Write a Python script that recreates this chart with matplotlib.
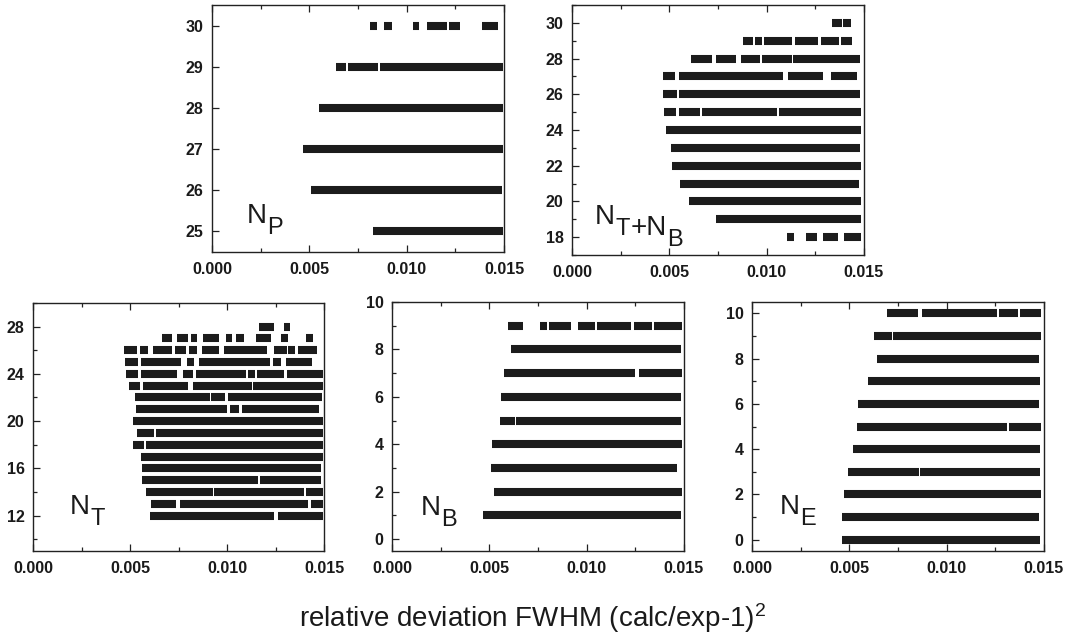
import matplotlib
matplotlib.use("Agg")
import matplotlib.pyplot as plt
from matplotlib.ticker import MultipleLocator, FormatStrFormatter

plt.rcParams["font.family"] = ["Liberation Sans", "DejaVu Sans"]
plt.rcParams["mathtext.default"] = "regular"

# ---- accepted parameter ranges: for each integer value, the x-intervals
# (relative deviation) covered by accepted solutions ----
np_levels = [30, 29, 28, 27, 26, 25]
np_segments = [
    [(0.00814, 0.00849), (0.00885, 0.00926), (0.01034, 0.01065),
     (0.01106, 0.01205), (0.01219, 0.01274), (0.01387, 0.01471)],
    [(0.00636, 0.00686), (0.00699, 0.00854), (0.00862, 0.01493)],
    [(0.00549, 0.01493)],
    [(0.00468, 0.01493)],
    [(0.00507, 0.01488)],
    [(0.00826, 0.01493)],
]

ntb_levels = [30, 29, 28, 27, 26, 25, 24, 23, 22, 21, 20, 19, 18]
ntb_segments = [
    [(0.01337, 0.01385), (0.01394, 0.01431)],
    [(0.00879, 0.00931), (0.00939, 0.00974), (0.00986, 0.01131),
     (0.01147, 0.01265), (0.01279, 0.01371), (0.01382, 0.01440)],
    [(0.00609, 0.00717), (0.00739, 0.00842), (0.00867, 0.00965),
     (0.00974, 0.01128), (0.01137, 0.01479)],
    [(0.00468, 0.00531), (0.00549, 0.01085), (0.01109, 0.01291),
     (0.01329, 0.01466)],
    [(0.00468, 0.00537), (0.00550, 0.01479)],
    [(0.00471, 0.00533), (0.00550, 0.00660), (0.00670, 0.01051),
     (0.01061, 0.01483)],
    [(0.00485, 0.01483)],
    [(0.00507, 0.01479)],
    [(0.00513, 0.01483)],
    [(0.00557, 0.01476)],
    [(0.00602, 0.01483)],
    [(0.00741, 0.01483)],
    [(0.01106, 0.01140), (0.01200, 0.01257), (0.01287, 0.01368),
     (0.01397, 0.01483)],
]

nt_levels = [28, 27, 26, 25, 24, 23, 22, 21, 20, 19, 18, 17, 16, 15, 14, 13, 12]
nt_segments = [
    [(0.01165, 0.01243), (0.01291, 0.01325)],
    [(0.00664, 0.00716), (0.00741, 0.00798), (0.00814, 0.00844),
     (0.00875, 0.00959), (0.00992, 0.01028), (0.01047, 0.01088),
     (0.01150, 0.01225), (0.01279, 0.01316), (0.01407, 0.01445)],
    [(0.00470, 0.00535), (0.00553, 0.00590), (0.00618, 0.00716),
     (0.00733, 0.00789), (0.00805, 0.00844), (0.00870, 0.00956),
     (0.00985, 0.01205), (0.01243, 0.01308), (0.01316, 0.01351),
     (0.01364, 0.01466)],
    [(0.00472, 0.00539), (0.00556, 0.00764), (0.00793, 0.00832),
     (0.00856, 0.01219), (0.01236, 0.01279), (0.01304, 0.01437)],
    [(0.00479, 0.00541), (0.00556, 0.00741), (0.00772, 0.00824),
     (0.00841, 0.01097), (0.01110, 0.01145), (0.01153, 0.01294),
     (0.01311, 0.01493)],
    [(0.00493, 0.00549), (0.00566, 0.00798), (0.00824, 0.01128),
     (0.01136, 0.01493)],
    [(0.00523, 0.00910), (0.00916, 0.00990), (0.01007, 0.01488)],
    [(0.00530, 0.00999), (0.01013, 0.01059), (0.01076, 0.01476)],
    [(0.00513, 0.01493)],
    [(0.00535, 0.00621), (0.00633, 0.01493)],
    [(0.00515, 0.00573), (0.00584, 0.01493)],
    [(0.00558, 0.01493)],
    [(0.00560, 0.01484)],
    [(0.00561, 0.01162), (0.01170, 0.01484)],
    [(0.00582, 0.00925), (0.00935, 0.01397), (0.01405, 0.01493)],
    [(0.00608, 0.00736), (0.00759, 0.01419), (0.01431, 0.01493)],
    [(0.00601, 0.01243), (0.01265, 0.01493)],
]

nb_levels = [9, 8, 7, 6, 5, 4, 3, 2, 1]
nb_segments = [
    [(0.00597, 0.00674), (0.00760, 0.00794), (0.00807, 0.00922),
     (0.00957, 0.01042), (0.01051, 0.01226), (0.01243, 0.01334),
     (0.01346, 0.01488)],
    [(0.00614, 0.01483)],
    [(0.00576, 0.01248), (0.01270, 0.01488)],
    [(0.00559, 0.01483)],
    [(0.00554, 0.00631), (0.00639, 0.01483)],
    [(0.00513, 0.01488)],
    [(0.00509, 0.01466)],
    [(0.00523, 0.01488)],
    [(0.00468, 0.01483)],
]

ne_levels = [10, 9, 8, 7, 6, 5, 4, 3, 2, 1, 0]
ne_segments = [
    [(0.00692, 0.00854), (0.00872, 0.01260), (0.01271, 0.01368),
     (0.01377, 0.01483)],
    [(0.00628, 0.00721), (0.00726, 0.01483)],
    [(0.00640, 0.01476)],
    [(0.00598, 0.01480)],
    [(0.00546, 0.01476)],
    [(0.00541, 0.01308), (0.01318, 0.01483)],
    [(0.00521, 0.01480)],
    [(0.00491, 0.00858), (0.00863, 0.01480)],
    [(0.00473, 0.01483)],
    [(0.00464, 0.01476)],
    [(0.00462, 0.01480)],
]

# panel titles as (text, is_subscript) pieces
np_title = [("N", False), ("P", True)]
ntb_title = [("N", False), ("T", True), ("+N", False), ("B", True)]
nt_title = [("N", False), ("T", True)]
nb_title = [("N", False), ("B", True)]
ne_title = [("N", False), ("E", True)]

BAR_COLOR = "#1c1c1c"
TEXT_COLOR = "#1a1a1a"

fig = plt.figure(figsize=(10.66, 6.34), dpi=100)


def draw_title(ax, pieces, pos):
    prev = ax.text(pos[0], pos[1], pieces[0][0], transform=ax.transAxes,
                   fontsize=20, color=TEXT_COLOR, ha="left", va="baseline")
    prev_sub = pieces[0][1]
    for txt, is_sub in pieces[1:]:
        dy = 0
        if is_sub and not prev_sub:
            dy = -3.5
        elif prev_sub and not is_sub:
            dy = 3.5
        prev = ax.annotate(txt, xy=(1, 0), xycoords=prev,
                           xytext=(0.3, dy), textcoords="offset points",
                           fontsize=17 if is_sub else 20, color=TEXT_COLOR,
                           ha="left", va="baseline")
        prev_sub = is_sub


def panel(rect, levels, segments, ylim, ymajor, yminor, title, lab_pos):
    ax = fig.add_axes(rect)
    for lvl, segs in zip(levels, segments):
        ax.hlines([lvl] * len(segs), [s[0] for s in segs], [s[1] for s in segs],
                  colors=BAR_COLOR, linewidth=5.8, capstyle="butt")
    ax.set_xlim(0.0, 0.015)
    ax.set_ylim(*ylim)
    ax.xaxis.set_major_locator(MultipleLocator(0.005))
    ax.xaxis.set_minor_locator(MultipleLocator(0.0025))
    ax.xaxis.set_major_formatter(FormatStrFormatter("%.3f"))
    ax.yaxis.set_major_locator(MultipleLocator(ymajor))
    ax.yaxis.set_minor_locator(MultipleLocator(yminor))
    ax.tick_params(which="both", direction="in", top=True, right=False,
                   width=0.9, color="#222222")
    ax.tick_params(which="major", length=5)
    ax.tick_params(which="minor", length=3)
    ax.tick_params(axis="x", which="major", pad=7)
    ax.tick_params(axis="y", which="major", pad=6)
    for t in ax.get_xticklabels() + ax.get_yticklabels():
        t.set_fontsize(11.5)
        t.set_fontweight("bold")
        t.set_color(TEXT_COLOR)
    for sp in ax.spines.values():
        sp.set_linewidth(1.0)
        sp.set_color("#222222")
    draw_title(ax, title, lab_pos)
    return ax


panel([0.1989, 0.6025, 0.2739, 0.3896], np_levels, np_segments,
      (24.5, 30.5), 1, 1, np_title, (0.12, 0.117))
panel([0.5366, 0.5978, 0.2739, 0.3943], ntb_levels, ntb_segments,
      (17, 31), 2, 1, ntb_title, (0.079, 0.124))
panel([0.0310, 0.1309, 0.2730, 0.3912], nt_levels, nt_segments,
      (9, 30), 4, 2, nt_title, (0.127, 0.149))
panel([0.3677, 0.1309, 0.2739, 0.3927], nb_levels, nb_segments,
      (-0.5, 10), 2, 1, nb_title, (0.10, 0.145))
panel([0.7054, 0.1309, 0.2739, 0.3927], ne_levels, ne_segments,
      (-0.5, 10.5), 2, 1, ne_title, (0.096, 0.149))

fig.text(533 / 1066, (634 - 627) / 634, "relative deviation FWHM (calc/exp-1)$^2$",
         fontsize=20, color=TEXT_COLOR, ha="center", va="baseline")

fig.savefig("out.png", dpi=100)
